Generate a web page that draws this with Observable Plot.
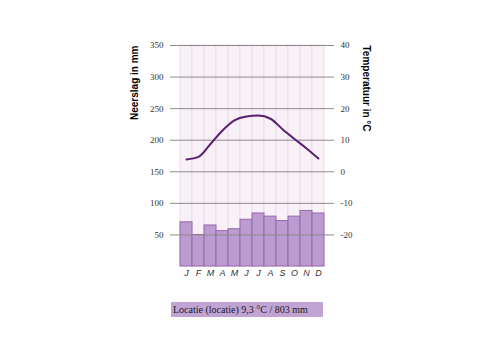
<!DOCTYPE html>
<html>
<head>
<meta charset="utf-8">
<script src="https://cdn.jsdelivr.net/npm/d3@7"></script>
<script src="https://cdn.jsdelivr.net/npm/@observablehq/plot@0.6"></script>
<style>
  html, body { margin: 0; padding: 0; background: #fff; }
  #caption {
    margin-left: 171px; margin-top: 12px; width: 150px; height: 15px;
    background: #c2a4d4; font: 10px "Liberation Serif", serif; color: #1a1a1a;
    line-height: 15px; padding-left: 2px; white-space: nowrap;
  }
</style>
</head>
<body>
<div id="chart"></div>
<div id="caption"></div>
<script>
const months = ["J","F","M","A","M","J","J","A","S","O","N","D"];
const precip = [70, 50, 65, 56, 59, 74, 84, 79, 72, 79, 88, 84];
const temp = [3.9, 4.7, 8.8, 13.1, 16.3, 17.5, 17.8, 16.8, 13.5, 10.4, 7.4, 4.2];
const precipTicks = [50, 100, 150, 200, 250, 300, 350];
const yTop = 350;
const captionText = "Locatie (locatie) 9,3 °C / 803 mm";
const leftTitle = "Neerslag in mm";
const rightTitle = "Temperatuur in °C";

const data = months.map((m, i) => ({i, m, p: precip[i], t: temp[i]}));
const tempToPrecip = t => 5 * t + 150;

const chart = Plot.plot({
  width: 500,
  height: 290,
  marginTop: 45,
  marginBottom: 24,
  marginLeft: 180,
  marginRight: 176,
  style: {background: "transparent"},
  x: {type: "band", domain: d3.range(12), padding: 0, label: null, axis: null},
  y: {domain: [0, yTop], label: null, axis: null},
  marks: [
    Plot.barY(data, {x: "i", y1: 0, y2: yTop, fill: "#f8f1f8", stroke: "#eadcea", strokeWidth: 1}),
    Plot.barY(data, {x: "i", y: "p", fill: "#bc9bd0", stroke: "#9669ae", strokeWidth: 1}),
    Plot.ruleY(precipTicks, {stroke: "#8c8c8c", strokeWidth: 1, insetLeft: -10, insetRight: -10}),
    Plot.line(data, {x: "i", y: d => tempToPrecip(d.t), curve: "monotone-x", stroke: "#5a1e6e", strokeWidth: 2}),
    Plot.axisY(precipTicks, {anchor: "left", tickSize: 0, tickPadding: 17, label: null,
      fontFamily: "Liberation Serif", fontSize: 9, fill: "#333"}),
    Plot.axisY(precipTicks, {anchor: "right", tickSize: 0, tickPadding: 16, label: null,
      tickFormat: v => String((v - 150) / 5),
      fontFamily: "Liberation Serif", fontSize: 9, fill: "#333"}),
    Plot.axisX(d3.range(12), {anchor: "bottom", tickSize: 0, tickPadding: 3, label: null,
      tickFormat: i => months[i], fontFamily: "Liberation Sans", fontStyle: "italic", fontSize: 9, fill: "#333"}),
    Plot.text([leftTitle], {frameAnchor: "top-left", dx: -50, rotate: -90, textAnchor: "end",
      fontWeight: "bold", fontSize: 10, fontFamily: "Liberation Sans", fill: "#000"}),
    Plot.text([rightTitle], {frameAnchor: "top-right", dx: 46, rotate: 90, textAnchor: "start",
      fontWeight: "bold", fontSize: 10, fontFamily: "Liberation Sans", fill: "#000"})
  ]
});
document.getElementById("chart").appendChild(chart);
document.getElementById("caption").textContent = captionText;
</script>
</body>
</html>
